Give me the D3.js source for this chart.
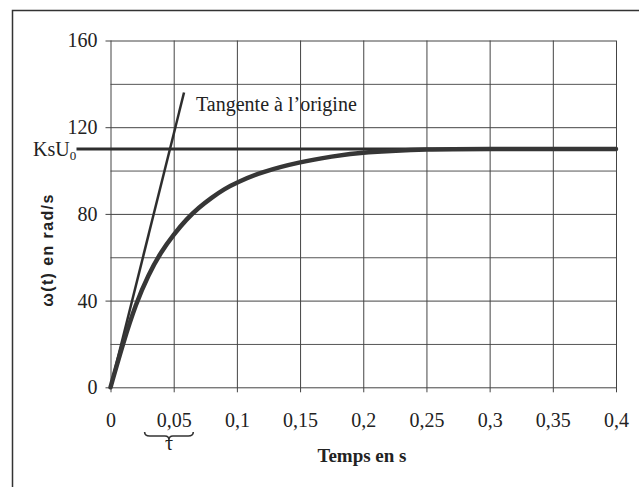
<!DOCTYPE html>
<html>
<head>
<meta charset="utf-8">
<script src="https://cdn.jsdelivr.net/npm/d3@7"></script>
<style>
  body { margin: 0; background: #fff; }
  svg { display: block; }
</style>
</head>
<body>
<div id="chart"></div>
<script>
// values
var timeValues = [0, 0.01, 0.02, 0.03, 0.04, 0.05, 0.06, 0.07, 0.08, 0.09, 0.1, 0.12, 0.15, 0.175, 0.2, 0.25, 0.3, 0.35, 0.4];
var omegaValues = [0, 20.5, 38.5, 52, 62.5, 70.5, 77.5, 83, 87.5, 91.5, 94.5, 99.5, 104, 106.5, 108.5, 110, 110, 110, 110];
var tangentTime = [0, 0.0582];
var tangentOmega = [0, 136];
var ksu0 = 110;
var xTicks = [0, 0.05, 0.1, 0.15, 0.2, 0.25, 0.3, 0.35, 0.4];
var xTickLabels = ["0", "0,05", "0,1", "0,15", "0,2", "0,25", "0,3", "0,35", "0,4"];
var yTicks = [0, 40, 80, 120, 160];
var yMinorTicks = [20, 60, 100, 140];
var tauSpan = [0.027, 0.0655];

var W = 639, H = 487;
var plotLeft = 110.5, plotRight = 616, plotTop = 40.5, plotBottom = 387.3;
var serif = "'Liberation Serif', 'Times New Roman', serif";
var ink = "#2e2e2e";

var svg = d3.select("#chart").append("svg")
    .attr("width", W)
    .attr("height", H);

svg.append("rect").attr("width", W).attr("height", H).attr("fill", "#fff");

// outer frame (cut off on right and bottom in the scan)
svg.append("path")
    .attr("d", "M12.5," + (H + 5) + "V10.5H" + (W + 5))
    .attr("fill", "none")
    .attr("stroke", "#333")
    .attr("stroke-width", 1.5);

var x = d3.scaleLinear().domain([0, 0.4]).range([plotLeft, plotRight]);
var y = d3.scaleLinear().domain([0, 160]).range([plotBottom, plotTop]);

// minor horizontal grid
svg.append("g")
    .attr("transform", "translate(" + plotLeft + ",0)")
    .call(d3.axisLeft(y).tickValues(yMinorTicks).tickSize(-(plotRight - plotLeft)).tickFormat(""))
    .call(function(g) { g.select(".domain").remove(); })
    .selectAll("line")
    .attr("stroke", "#555")
    .attr("stroke-width", 1);

// y axis with major grid
var yAxis = svg.append("g")
    .attr("transform", "translate(" + (plotLeft - 5) + ",0)")
    .call(d3.axisLeft(y).tickValues(yTicks).tickSize(-(plotRight - plotLeft + 5)).tickPadding(8));
yAxis.select(".domain").remove();
yAxis.selectAll("line").attr("stroke", "#444").attr("stroke-width", 1);
yAxis.selectAll("text")
    .style("font-family", serif)
    .style("font-size", "20px")
    .attr("fill", "#222");

// x axis with vertical grid
var xAxis = svg.append("g")
    .attr("transform", "translate(0," + (plotBottom + 5) + ")")
    .call(d3.axisBottom(x).tickValues(xTicks).tickSize(-(plotBottom + 5 - plotTop)).tickPadding(21)
        .tickFormat(function(d, i) { return xTickLabels[i]; }));
xAxis.select(".domain").remove();
xAxis.selectAll("line").attr("stroke", "#444").attr("stroke-width", 1);
xAxis.selectAll("text")
    .style("font-family", serif)
    .style("font-size", "20px")
    .attr("fill", "#222");

// steady-state level KsU0
svg.append("line")
    .attr("x1", x(0) - 34)
    .attr("x2", x(0.4))
    .attr("y1", y(ksu0))
    .attr("y2", y(ksu0))
    .attr("stroke", ink)
    .attr("stroke-width", 3);

var ksLabel = svg.append("text")
    .attr("x", 33)
    .attr("y", y(ksu0) + 7)
    .style("font-family", serif)
    .style("font-size", "20px")
    .attr("fill", "#222");
ksLabel.append("tspan").text("KsU");
ksLabel.append("tspan").attr("dy", 4).style("font-size", "13px").text("0");

// tangent at origin
var tangentData = tangentTime.map(function(t, i) { return [t, tangentOmega[i]]; });
svg.append("path")
    .datum(tangentData)
    .attr("d", d3.line().x(function(d) { return x(d[0]); }).y(function(d) { return y(d[1]); }))
    .attr("fill", "none")
    .attr("stroke", ink)
    .attr("stroke-width", 2.5);

svg.append("text")
    .attr("x", x(tangentTime[1]) + 12)
    .attr("y", 111)
    .style("font-family", serif)
    .style("font-size", "20px")
    .attr("fill", "#222")
    .text("Tangente à l\u2019origine");

// response curve
var curveData = timeValues.map(function(t, i) { return [t, omegaValues[i]]; });
svg.append("path")
    .datum(curveData)
    .attr("d", d3.line()
        .x(function(d) { return x(d[0]); })
        .y(function(d) { return y(d[1]); })
        .curve(d3.curveBasis))
    .attr("fill", "none")
    .attr("stroke", "#363636")
    .attr("stroke-width", 4.5)
    .attr("stroke-linecap", "round");

// brace marking tau
var bx0 = x(tauSpan[0]), bx1 = x(tauSpan[1]), bm = (bx0 + bx1) / 2, by = 432;
svg.append("path")
    .attr("d", "M" + bx0 + "," + by +
        "Q" + bx0 + "," + (by + 4) + " " + (bx0 + 5) + "," + (by + 4) +
        "L" + (bm - 4) + "," + (by + 4) +
        "Q" + bm + "," + (by + 4) + " " + bm + "," + (by + 8) +
        "Q" + bm + "," + (by + 4) + " " + (bm + 4) + "," + (by + 4) +
        "L" + (bx1 - 5) + "," + (by + 4) +
        "Q" + bx1 + "," + (by + 4) + " " + bx1 + "," + by)
    .attr("fill", "none")
    .attr("stroke", "#333")
    .attr("stroke-width", 1.6);

svg.append("text")
    .attr("x", bm)
    .attr("y", 450)
    .attr("text-anchor", "middle")
    .style("font-family", serif)
    .style("font-size", "20px")
    .attr("fill", "#222")
    .text("τ");

// axis titles
svg.append("text")
    .attr("x", 362)
    .attr("y", 462)
    .attr("text-anchor", "middle")
    .style("font-family", serif)
    .style("font-size", "19px")
    .style("font-weight", "bold")
    .attr("fill", "#222")
    .text("Temps en s");

svg.append("text")
    .attr("transform", "translate(53,250) rotate(-90)")
    .attr("text-anchor", "middle")
    .style("font-family", "'Liberation Sans', Arial, sans-serif")
    .style("font-size", "16px")
    .style("font-weight", "bold")
    .style("letter-spacing", "1.4px")
    .attr("fill", "#222")
    .text("ω(t) en rad/s");
</script>
</body>
</html>
